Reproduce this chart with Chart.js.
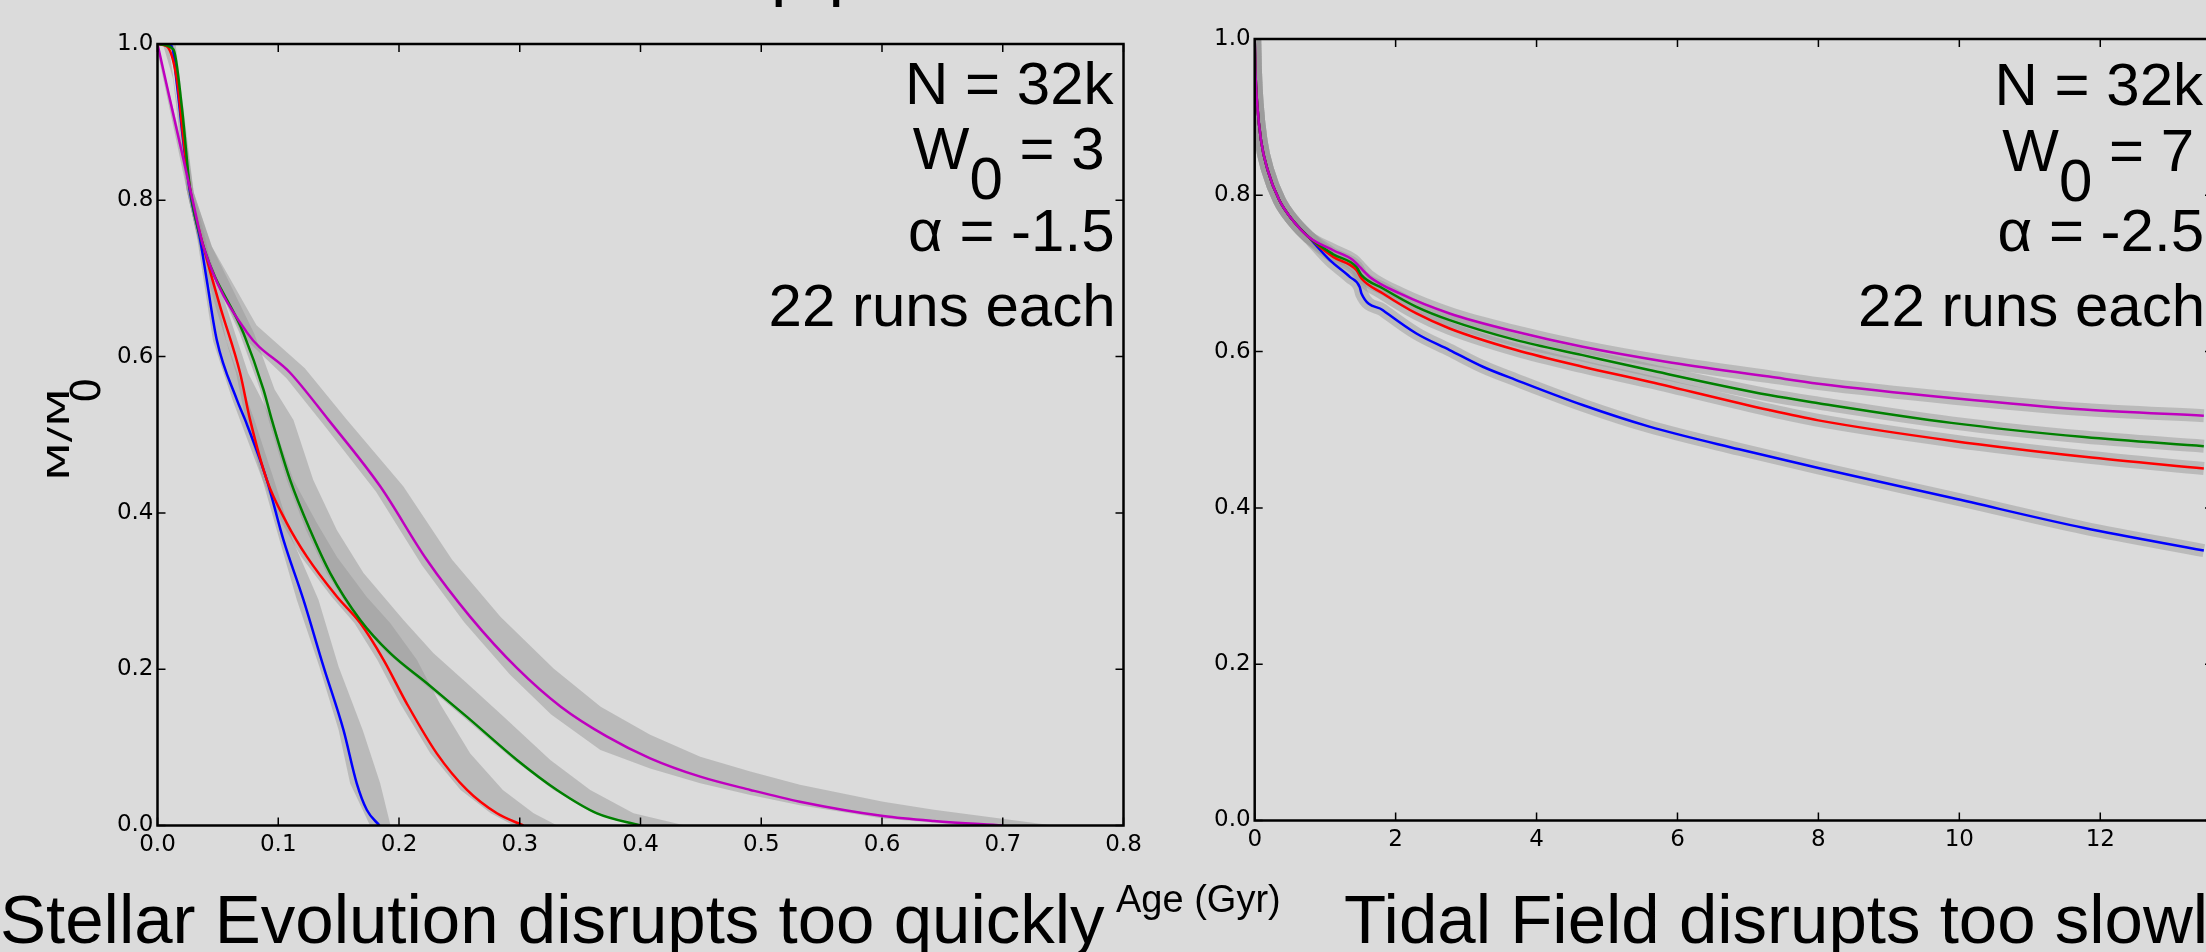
<!DOCTYPE html>
<html>
<head>
<meta charset="utf-8">
<script src="https://cdn.jsdelivr.net/npm/chart.js@4.4.1/dist/chart.umd.min.js"></script>
<style>
  html, body { margin: 0; padding: 0; width: 2206px; height: 952px; overflow: hidden; background: #dbdbdb; }
  canvas { position: absolute; top: 0; }
  #left { left: 0; }
  #right { left: 1160px; }
</style>
</head>
<body>
<canvas id="left" width="1300" height="952"></canvas>
<canvas id="right" width="1100" height="952"></canvas>
<script>
// tick values
var leftXTicks = [0, 0.1, 0.2, 0.3, 0.4, 0.5, 0.6, 0.7, 0.8];
var rightXTicks = [0, 2, 4, 6, 8, 10, 12];
var yTicks = [0, 0.2, 0.4, 0.6, 0.8, 1.0];

// left panel: stellar evolution only (Age in Gyr, M/M0)
var leftBlueX = [0, 0.0118, 0.016, 0.021, 0.027, 0.0353, 0.0408, 0.049, 0.0657, 0.0726, 0.0906, 0.1043, 0.1209, 0.1375, 0.154, 0.165, 0.1734, 0.1838];
var leftBlueY = [1.0, 0.997, 0.95, 0.88, 0.81, 0.75, 0.698, 0.622, 0.545, 0.519, 0.442, 0.3655, 0.2887, 0.2033, 0.1223, 0.054, 0.0198, 0];
var leftRedX = [0, 0.0077, 0.016, 0.0215, 0.027, 0.0394, 0.0519, 0.0684, 0.0767, 0.0906, 0.1071, 0.1237, 0.1485, 0.1679, 0.1872, 0.2065, 0.2314, 0.2563, 0.2811, 0.303];
var leftRedY = [1.0, 0.997, 0.955, 0.878, 0.814, 0.733, 0.664, 0.579, 0.519, 0.442, 0.387, 0.344, 0.293, 0.259, 0.212, 0.156, 0.092, 0.0455, 0.0156, 0];
var leftGreenX = [0, 0.0132, 0.0201, 0.027, 0.038, 0.0712, 0.0877, 0.0947, 0.1099, 0.1264, 0.143, 0.1679, 0.1927, 0.2231, 0.2563, 0.2977, 0.3308, 0.364, 0.4];
var leftGreenY = [1.0, 0.993, 0.92, 0.814, 0.741, 0.63, 0.558, 0.519, 0.442, 0.378, 0.323, 0.263, 0.2205, 0.182, 0.139, 0.0839, 0.0455, 0.0156, 0];
var leftMagX = [0, 0.0284, 0.038, 0.074, 0.110, 0.1416, 0.1844, 0.223, 0.259, 0.298, 0.334, 0.372, 0.408, 0.4495, 0.491, 0.532, 0.601, 0.643, 0.70];
var leftMagY = [1.0, 0.805, 0.741, 0.631, 0.579, 0.519, 0.434, 0.340, 0.267, 0.201, 0.152, 0.114, 0.086, 0.0625, 0.0455, 0.0305, 0.0122, 0.0058, 0];

// spread bands of the left panel, [x, y] along each edge
var leftBlueBandA = [[0, 1.0], [0.011, 1.0], [0.025, 0.81], [0.033, 0.75], [0.046, 0.62], [0.062, 0.545], [0.087, 0.442], [0.101, 0.3655], [0.1154, 0.2887], [0.134, 0.2033], [0.150, 0.1223], [0.1595, 0.054], [0.176, 0]];
var leftBlueBandB = [[0.013, 1.0], [0.03, 0.81], [0.04, 0.75], [0.057, 0.62], [0.08, 0.52], [0.097, 0.44], [0.112, 0.365], [0.1333, 0.289], [0.150, 0.203], [0.170, 0.122], [0.1844, 0.054], [0.193, 0]];
var leftRedBandA = [[0, 1.0], [0.005, 0.997], [0.013, 0.955], [0.0185, 0.878], [0.024, 0.814], [0.036, 0.733], [0.048, 0.664], [0.065, 0.579], [0.073, 0.519], [0.087, 0.442], [0.103, 0.387], [0.119, 0.344], [0.144, 0.293], [0.163, 0.259], [0.182, 0.212], [0.201, 0.156], [0.226, 0.092], [0.251, 0.0455], [0.276, 0.0156], [0.295, 0]];
var leftRedBandB = [[0.009, 1.0], [0.027, 0.814], [0.042, 0.733], [0.057, 0.664], [0.075, 0.579], [0.095, 0.519], [0.1126, 0.442], [0.132, 0.387], [0.1485, 0.344], [0.173, 0.293], [0.1927, 0.259], [0.2148, 0.212], [0.2338, 0.156], [0.259, 0.092], [0.286, 0.0455], [0.3115, 0.0156], [0.331, 0]];
var leftGreenBandA = [[0, 1.0], [0.011, 0.993], [0.018, 0.92], [0.024, 0.814], [0.035, 0.741], [0.068, 0.63], [0.085, 0.558], [0.092, 0.519], [0.107, 0.442], [0.123, 0.378], [0.140, 0.323], [0.165, 0.263], [0.190, 0.2205], [0.220, 0.182], [0.253, 0.139], [0.295, 0.0839], [0.328, 0.0455], [0.361, 0.0156], [0.397, 0]];
var leftGreenBandB = [[0.015, 1.0], [0.03, 0.81], [0.045, 0.741], [0.08, 0.63], [0.097, 0.558], [0.1126, 0.519], [0.129, 0.442], [0.1485, 0.378], [0.1706, 0.323], [0.2037, 0.263], [0.2286, 0.2205], [0.2563, 0.182], [0.2867, 0.139], [0.3253, 0.0839], [0.3584, 0.0455], [0.3942, 0.0156], [0.437, 0]];
var leftMagBandA = [[0, 0.99], [0.026, 0.80], [0.036, 0.735], [0.071, 0.625], [0.107, 0.572], [0.138, 0.512], [0.181, 0.427], [0.219, 0.333], [0.254, 0.26], [0.292, 0.193], [0.326, 0.142], [0.3668, 0.0967], [0.408, 0.073], [0.4495, 0.054], [0.491, 0.039], [0.532, 0.026], [0.601, 0.009], [0.643, 0.0035], [0.67, 0]];
var leftMagBandB = [[0, 1.0], [0.03, 0.81], [0.045, 0.741], [0.082, 0.64], [0.122, 0.585], [0.157, 0.519], [0.2035, 0.434], [0.244, 0.340], [0.284, 0.267], [0.328, 0.201], [0.367, 0.152], [0.408, 0.116], [0.4495, 0.088], [0.491, 0.069], [0.532, 0.052], [0.601, 0.0305], [0.643, 0.020], [0.698, 0.009], [0.742, 0]];

// right panel: tidal field only
var rightBlueX = [0, 0.01, 0.035, 0.09, 0.185, 0.35, 0.54, 0.76, 1.066, 1.35, 1.49, 1.515, 1.82, 2.295, 2.766, 3.238, 3.711, 4.654, 5.6, 6.874, 8.0, 9.887, 11.775, 13.47];
var rightBlueY = [1.0, 0.96, 0.917, 0.870, 0.832, 0.7936, 0.768, 0.747, 0.717, 0.6956, 0.6828, 0.6744, 0.653, 0.6232, 0.602, 0.5806, 0.5636, 0.5316, 0.504, 0.475, 0.451, 0.4129, 0.3742, 0.3454];
var rightRedX = [0, 0.01, 0.035, 0.09, 0.185, 0.35, 0.54, 0.76, 1.113, 1.445, 1.515, 1.82, 2.295, 2.766, 3.711, 4.654, 5.6, 7.3, 8.0, 9.887, 11.775, 13.47];
var rightRedY = [1.0, 0.96, 0.917, 0.870, 0.832, 0.7936, 0.768, 0.747, 0.7212, 0.7042, 0.6935, 0.6744, 0.6488, 0.6296, 0.602, 0.5806, 0.5614, 0.5252, 0.512, 0.486, 0.4654, 0.4503];
var rightGreenX = [0, 0.01, 0.035, 0.09, 0.185, 0.35, 0.54, 0.76, 1.113, 1.445, 1.515, 1.82, 2.295, 2.766, 3.711, 4.654, 5.6, 7.3, 8.0, 9.887, 11.775, 13.47];
var rightGreenY = [1.0, 0.96, 0.917, 0.870, 0.832, 0.7936, 0.768, 0.747, 0.7246, 0.7084, 0.6978, 0.6808, 0.6573, 0.6403, 0.6147, 0.5955, 0.5764, 0.5444, 0.534, 0.5088, 0.4906, 0.479];
var rightMagX = [0, 0.01, 0.035, 0.09, 0.185, 0.35, 0.54, 0.76, 1.113, 1.397, 1.49, 1.633, 2.058, 2.766, 3.711, 4.654, 5.835, 7.3, 8.0, 9.887, 11.775, 13.47];
var rightMagY = [1.0, 0.96, 0.917, 0.870, 0.832, 0.7936, 0.768, 0.747, 0.7297, 0.717, 0.7084, 0.6956, 0.6744, 0.6488, 0.6253, 0.6061, 0.587, 0.568, 0.559, 0.5407, 0.5258, 0.518];

var bandColor = 'rgba(150, 150, 150, 0.48)';

function pts(xs, ys) {
    return xs.map(function(x, i) { return {x: x, y: ys[i]}; });
}

function ring(a, b) {
    var out = a.map(function(p) { return {x: p[0], y: p[1]}; });
    for (var i = b.length - 1; i >= 0; i--) out.push({x: b[i][0], y: b[i][1]});
    return out;
}

function lineSet(data, color, order) {
    return {
        data: data, borderColor: color, borderWidth: 2.5, pointRadius: 0,
        showLine: true, fill: false, cubicInterpolationMode: 'monotone', order: order
    };
}

function bandSet(data) {
    return {
        data: data, borderWidth: 0, borderColor: 'rgba(0,0,0,0)', backgroundColor: bandColor,
        pointRadius: 0, showLine: true, fill: 'shape', tension: 0, order: 10
    };
}

function thickBand(data) {
    return {
        data: data, borderColor: bandColor, borderWidth: 13, pointRadius: 0,
        showLine: true, fill: false, cubicInterpolationMode: 'monotone', order: 10
    };
}

function drawText(ctx, text, x, y, font, align) {
    ctx.font = font;
    ctx.textAlign = align || 'left';
    ctx.textBaseline = 'alphabetic';
    ctx.fillText(text, x, y);
}

// spines, inward ticks and the text on each panel
var frame = {
    id: 'frame',
    afterDraw: function(chart, args, opts) {
        var ctx = chart.ctx, a = chart.chartArea;
        var xs = chart.scales.x, ys = chart.scales.y;
        ctx.save();
        ctx.strokeStyle = '#000';
        ctx.fillStyle = '#000';
        ctx.lineWidth = 1.5;
        ctx.beginPath();
        xs.ticks.forEach(function(t) {
            var p = xs.getPixelForValue(t.value);
            ctx.moveTo(p, a.bottom); ctx.lineTo(p, a.bottom - 8);
            ctx.moveTo(p, a.top); ctx.lineTo(p, a.top + 8);
        });
        ys.ticks.forEach(function(t) {
            var p = ys.getPixelForValue(t.value);
            ctx.moveTo(a.left, p); ctx.lineTo(a.left + 8, p);
            ctx.moveTo(a.right, p); ctx.lineTo(a.right - 8, p);
        });
        ctx.stroke();
        ctx.lineWidth = 2.5;
        ctx.strokeRect(a.left, a.top, a.right - a.left, a.bottom - a.top);

        // run parameters
        var big = '60px "Liberation Sans", Arial, sans-serif';
        var r = a.right, ny = opts.noteY;
        drawText(ctx, 'N = 32k', r - 10, ny[0], big, 'right');
        ctx.font = big;
        var rest = ' = ' + opts.w0;
        var wRest = ctx.measureText(rest).width;
        var wZero = ctx.measureText('0').width;
        var xe = r - 19;
        drawText(ctx, rest, xe, ny[1], big, 'right');
        drawText(ctx, '0', xe - wRest, ny[1] + 30, big, 'right');
        drawText(ctx, 'W', xe - wRest - wZero, ny[1], big, 'right');
        drawText(ctx, '\u03b1 = ' + opts.alpha, r - 9, ny[2], big, 'right');
        drawText(ctx, '22 runs each', r - 8, ny[3], big, 'right');

        // captions under the panels and the clipped slide title
        (opts.captions || []).forEach(function(c) {
            drawText(ctx, c.text, c.x - opts.offset, c.y, c.font, 'left');
        });

        if (opts.yLabel) {
            ctx.save();
            ctx.translate(69, 481);
            ctx.rotate(-Math.PI / 2);
            ctx.save();
            ctx.scale(1.5, 1);
            drawText(ctx, 'M/M', 0, 0, '30px "DejaVu Sans"', 'left');
            ctx.restore();
            drawText(ctx, '0', 78, 31, '40px "DejaVu Sans"', 'left');
            ctx.restore();
        }
        ctx.restore();
    }
};

function scales(xMin, xMax, xTicks, fmt, yWidth, xHeight) {
    var tickFont = {family: 'DejaVu Sans', size: 23};
    return {
        x: {
            type: 'linear', min: xMin, max: xMax,
            grid: {display: false, drawTicks: false}, border: {display: false},
            afterBuildTicks: function(s) { s.ticks = xTicks.map(function(v) { return {value: v}; }); },
            afterFit: function(s) { s.height = xHeight; },
            ticks: {padding: 6, maxRotation: 0, autoSkip: false, color: '#000', font: tickFont,
                    callback: function(v) { return fmt(v); }}
        },
        y: {
            type: 'linear', min: 0, max: 1,
            grid: {display: false, drawTicks: false}, border: {display: false},
            afterBuildTicks: function(s) { s.ticks = yTicks.map(function(v) { return {value: v}; }); },
            afterFit: function(s) { s.width = yWidth; },
            ticks: {padding: 4, autoSkip: false, color: '#000', font: tickFont,
                    callback: function(v) { return v.toFixed(1); }}
        }
    };
}

var ctx1 = document.getElementById('left').getContext('2d');
var chart1 = new Chart(ctx1, {
    type: 'scatter',
    data: {
        datasets: [
            lineSet(pts(leftMagX, leftMagY), '#bf00bf', 0),
            lineSet(pts(leftGreenX, leftGreenY), '#008000', 1),
            lineSet(pts(leftRedX, leftRedY), '#ff0000', 2),
            lineSet(pts(leftBlueX, leftBlueY), '#0000ff', 3),
            bandSet(ring(leftMagBandA, leftMagBandB)),
            bandSet(ring(leftGreenBandA, leftGreenBandB)),
            bandSet(ring(leftRedBandA, leftRedBandB)),
            bandSet(ring(leftBlueBandA, leftBlueBandB))
        ]
    },
    options: {
        responsive: false, animation: false,
        layout: {padding: {left: 0, top: 44, right: 176.5, bottom: 0}},
        scales: scales(0, 0.8, leftXTicks, function(v) { return v.toFixed(1); }, 157.5, 126.5),
        plugins: {
            legend: {display: false}, tooltip: {enabled: false},
            frame: {
                noteY: [104, 169, 251, 326], w0: '3', alpha: '-1.5', offset: 0, yLabel: true,
                captions: [
                    {text: 'Stellar Evolution disrupts too quickly', x: 0, y: 943, font: '69px "Liberation Sans", Arial, sans-serif'},
                    {text: 'Age (Gyr)', x: 1116, y: 912, font: '38px "Liberation Sans", Arial, sans-serif'},
                    {text: 'p p', x: 771, y: -7, font: '69px "Liberation Sans", Arial, sans-serif'}
                ]
            }
        }
    },
    plugins: [frame]
});

var ctx2 = document.getElementById('right').getContext('2d');
var chart2 = new Chart(ctx2, {
    type: 'scatter',
    data: {
        datasets: [
            lineSet(pts(rightMagX, rightMagY), '#bf00bf', 0),
            lineSet(pts(rightGreenX, rightGreenY), '#008000', 1),
            lineSet(pts(rightRedX, rightRedY), '#ff0000', 2),
            lineSet(pts(rightBlueX, rightBlueY), '#0000ff', 3),
            thickBand(pts(rightMagX, rightMagY)),
            thickBand(pts(rightGreenX, rightGreenY)),
            thickBand(pts(rightRedX, rightRedY)),
            thickBand(pts(rightBlueX, rightBlueY))
        ]
    },
    options: {
        responsive: false, animation: false,
        layout: {padding: {left: 0, top: 39, right: 47, bottom: 0}},
        scales: scales(0, 13.6, rightXTicks, function(v) { return String(v); }, 94.7, 131.5),
        plugins: {
            legend: {display: false}, tooltip: {enabled: false},
            frame: {
                noteY: [105, 171, 251, 326], w0: '7', alpha: '-2.5', offset: 1160, yLabel: false,
                captions: [
                    {text: 'Tidal Field disrupts too slowly', x: 1344, y: 943, font: '69px "Liberation Sans", Arial, sans-serif'}
                ]
            }
        }
    },
    plugins: [frame]
});
</script>
</body>
</html>
